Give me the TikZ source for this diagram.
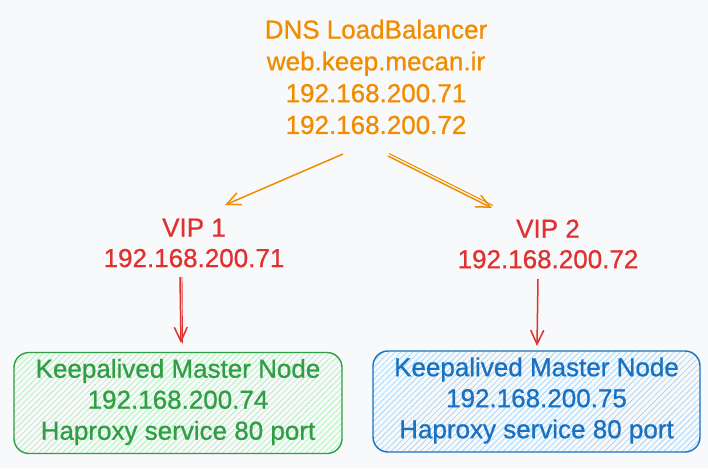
\documentclass[tikz,border=0pt]{standalone}
\usepackage{fontspec}
\setmainfont{Liberation Sans}[FakeBold=0.8]
\usetikzlibrary{arrows.meta,patterns.meta}
\definecolor{bg}{HTML}{F8F9FA}
\definecolor{ora}{HTML}{F08C00}
\definecolor{rd}{HTML}{E03131}
\definecolor{gr}{HTML}{2F9E44}
\definecolor{grl}{HTML}{B2F2BB}
\definecolor{bl}{HTML}{1971C2}
\definecolor{bll}{HTML}{A5D8FF}
\tikzset{
  txt/.style={align=center, font=\fontsize{26}{31.8}\selectfont, inner sep=0pt},
  boxnode/.style={draw=#1, line width=1.4pt, rounded corners=15pt, minimum width=327pt, minimum height=101pt, inner sep=0pt},
  arr/.style={draw=#1, line width=1.5pt, -{Straight Barb[length=14pt,width=13pt,line width=1.5pt]}},
  thinline/.style={draw=#1, line width=0.9pt},
}
\begin{document}
\begin{tikzpicture}[x=1pt,y=-1pt]
\fill[bg] (0,0) rectangle (708,468);
\useasboundingbox (0,0) rectangle (708,468);

% top text
\node[txt, text=ora] (top) at (376,77) {DNS LoadBalancer\\web.keep.mecan.ir\\192.168.200.71\\192.168.200.72};

% VIP labels
\node[txt, text=rd, font=\fontsize{26}{30.5}\selectfont] (vip1) at (194,243) {VIP 1\\192.168.200.71};
\node[txt, text=rd, font=\fontsize{26}{30.5}\selectfont] (vip2) at (548,244) {VIP 2\\192.168.200.72};

% boxes
\node[boxnode=gr, minimum width=328pt, pattern={Lines[angle=45,distance=4.2pt,line width=0.8pt]}, pattern color=grl] (box1) at (178,403) {};
\node[txt, text=gr, font=\fontsize{26}{31}\selectfont] (t1) at ([yshift=1]box1.center) {Keepalived Master Node\\192.168.200.74\\Haproxy service 80 port};
\node[boxnode=bl, pattern={Lines[angle=45,distance=4.2pt,line width=0.8pt]}, pattern color=bll] (box2) at (536.5,401.5) {};
\node[txt, text=bl, font=\fontsize{26}{31}\selectfont] (t2) at ([yshift=1]box2.center) {Keepalived Master Node\\192.168.200.75\\Haproxy service 80 port};

% connector end points
\coordinate (o1s) at (343,154);
\coordinate (o1e) at (225,205);
\coordinate (o2s) at (388,156);
\coordinate (o2e) at (492,208);
\coordinate (r1s) at (180,277);
\coordinate (r1e) at (181,343);
\coordinate (r2s) at (538,279);
\coordinate (r2e) at (537,346);

\draw[arr=ora] (o1s) -- (o1e);
\draw[arr=ora] (o2s) -- (o2e);
\draw[thinline=ora] ([shift={(1,-2.5)}]o2s) -- ([shift={(1,-2.5)}]o2e);
\draw[arr=rd] (r1s) -- (r1e);
\draw[thinline=rd] ([shift={(2,0)}]r1s) -- ([shift={(1.5,0)}]r1e);
\draw[arr=rd] (r2s) -- (r2e);
\end{tikzpicture}
\end{document}
